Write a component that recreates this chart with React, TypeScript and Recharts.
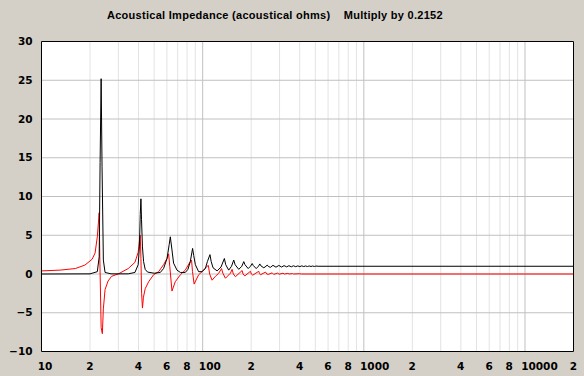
import React from "react";
import { LineChart, Line, XAxis, YAxis, ReferenceLine, CartesianGrid } from "recharts";

const chartTitle = "Acoustical Impedance (acoustical ohms)    Multiply by 0.2152";

const xTicks = [10, 20, 40, 60, 80, 100, 200, 400, 600, 800, 1000, 2000, 4000, 6000, 8000, 10000, 20000];
const xTickLabels = ["10", "2", "4", "6", "8", "100", "2", "4", "6", "8", "1000", "2", "4", "6", "8", "10000", "2"];
const yTicks = [-10, -5, 0, 5, 10, 15, 20, 25, 30];
const yGridValues = [-5, 0, 5, 10, 15, 20, 25];
const minorGridFreqs = [
  20, 30, 40, 50, 60, 70, 80, 90,
  200, 300, 400, 500, 600, 700, 800, 900,
  2000, 3000, 4000, 5000, 6000, 7000, 8000, 9000,
];
const majorGridFreqs = [100, 1000, 10000];

// Black trace (resistive part)
const blackFreq = [
  10, 20, 22.2, 22.8, 23.1, 23.45, 23.75, 24.2, 24.8, 27, 34.5, 38, 39.8, 40.5, 41.0, 41.4, 41.75, 42.3, 43, 44, 45.5,
  50, 54.6, 57.2, 60.1, 62.0, 63.0, 64.5, 66.0, 69.3, 72.7, 78, 81, 83.8, 86.6, 88, 90.1, 94.4, 99, 103.9, 107, 111,
  113, 116, 122.9, 130, 136.4, 139, 145.1, 151, 155.9, 159, 167.5, 175, 179.9, 183, 191.6, 198, 202.9, 206, 214.8,
  222, 226.2, 230, 239.6, 247, 251.5, 255, 263, 273, 285, 297, 309, 320, 332, 343, 355, 366, 378, 389, 401, 412, 424,
  435, 447, 458, 470, 481, 493, 505, 520, 20000,
];
const blackVal = [
  0, 0.02, 0.3, 2.2, 14.4, 25.2, 13.9, 1.8, 0.2, 0.02, 0.02, 0.2, 1.2, 3.5, 7.7, 9.7, 7.0, 3.5, 1.6, 0.6, 0.25,
  0.1, 0.2, 0.7, 2.0, 3.8, 4.8, 3.1, 1.4, 0.5, 0.2, 0.2, 0.6, 1.6, 3.3, 2.4, 1.2, 0.3, 0.3, 0.7, 1.6, 2.5,
  1.6, 0.8, 0.4, 0.9, 2.0, 1.2, 0.5, 1.0, 1.8, 1.2, 0.6, 1.0, 1.6, 1.2, 0.7, 1.0, 1.35, 1.1, 0.7,
  1.0, 1.3, 1.05, 0.8, 1.0, 1.15, 1.0, 0.85, 1.12, 0.88, 1.1, 0.9, 1.08, 0.92, 1.07, 0.93, 1.06, 0.94, 1.05, 0.95, 1.05, 0.96,
  1.04, 0.96, 1.04, 0.97, 1.03, 0.97, 1.03, 1.0, 1.0,
];

// Red trace (reactive part)
const redFreq = [
  10, 13, 16.2, 18.6, 20.6, 21.5, 22.2, 22.8, 23.0, 23.45, 23.85, 24.2, 24.8, 25.9, 27.2, 29.9, 34.5, 38.0, 39.8, 40.6,
  41.0, 41.4, 41.8, 42.3, 42.9, 44.0, 46.2, 49.6, 53.3, 57.2, 60.1, 61.5, 62.5, 64.5, 67.6, 72.7, 78, 83.8, 85.3, 86.5,
  88.5, 94.4, 99.1, 106.5, 108.5, 110.5, 114.4, 120, 125.8, 131, 133.5, 138.4, 148.7, 152.3, 155, 159.7, 175.8, 178,
  182.5, 198, 200.5, 204.6, 223, 225, 228.5, 245.5, 250, 255.1, 270, 276, 292, 298, 315, 321, 338, 344, 361, 367, 400,
  410, 20000,
];
const redVal = [
  0.4, 0.5, 0.7, 1.15, 1.9, 2.7, 4.8, 7.9, 2.2, -6.9, -7.7, -4.5, -2.0, -0.9, -0.3, 0.0, 0.7, 1.5, 2.8, 4.5,
  5.0, 2.0, -2.5, -4.4, -3.0, -1.9, -1.0, -0.1, 0.3, 1.2, 2.0, 2.6, 1.0, -2.2, -1.0, -0.1, 0.5, 1.6, 1.8, 0.3,
  -1.3, -0.1, 0.3, 1.0, 1.1, 0.0, -0.8, -0.3, 0.1, 0.7, 0.1, -0.55, 0.1, 0.6, 0.0, -0.35, 0.45, 0.0,
  -0.25, 0.35, 0.0, -0.15, 0.35, 0.1, -0.1, 0.25, 0.0, -0.05, 0.15, -0.05, 0.12, -0.03, 0.1, 0.0, 0.08, 0.0, 0.06, 0.0, 0.04,
  0.0, 0,
];

const blackData = blackFreq.map((f, i) => ({ f, v: blackVal[i] }));
const redData = redFreq.map((f, i) => ({ f, v: redVal[i] }));

const labelFont = "'DejaVu Sans', sans-serif";

const XTick = (props: any) => {
  const { x, y, payload } = props;
  const idx = xTicks.indexOf(payload.value);
  const label = idx >= 0 ? xTickLabels[idx] : String(payload.value);
  return (
    <text
      x={x - 3.8}
      y={y}
      dy="0.71em"
      textAnchor="start"
      fill="#000"
      fontSize={10.5}
      fontWeight="bold"
      fontFamily={labelFont}
    >
      {label}
    </text>
  );
};

const formatY = (v: number) => (v < 0 ? "\u2212" + Math.abs(v) : String(v));

export default function App() {
  return (
    <div style={{ position: "fixed", left: 0, top: 0, width: 584, height: 376, background: "#D4D0C8" }}>
      <div
        style={{
          position: "absolute",
          left: 107,
          top: 8.8,
          fontFamily: "'Liberation Sans', Arial, sans-serif",
          fontWeight: "bold",
          fontSize: 11,
          letterSpacing: 0.28,
          lineHeight: "12px",
          whiteSpace: "pre",
          color: "#000",
        }}
      >
        {chartTitle}
      </div>
      <LineChart
        width={584}
        height={376}
        margin={{ top: 41.5, right: 10.5, bottom: 0, left: 0 }}
        style={{ position: "absolute", left: 0, top: 0 }}
      >
        <CartesianGrid fill="#ffffff" fillOpacity={1} horizontal={false} vertical={false} />
        <XAxis
          dataKey="f"
          type="number"
          scale="log"
          domain={[10, 20000]}
          ticks={xTicks}
          interval={0}
          allowDataOverflow
          height={24.5}
          tickLine={false}
          tickSize={0}
          tickMargin={11}
          axisLine={{ stroke: "#000" }}
          tick={<XTick />}
        />
        <YAxis
          type="number"
          domain={[-10, 30]}
          ticks={yTicks}
          interval={0}
          allowDataOverflow
          width={41.5}
          tickLine={false}
          tickSize={0}
          tickMargin={9}
          axisLine={{ stroke: "#000" }}
          tickFormatter={formatY}
          tick={{ fill: "#000", fontSize: 10.5, fontWeight: "bold", fontFamily: labelFont }}
        />
        {minorGridFreqs.map((f) => (
          <ReferenceLine key={"mn" + f} x={f} stroke="#e3e3e3" strokeWidth={1} />
        ))}
        {majorGridFreqs.map((f) => (
          <ReferenceLine key={"mj" + f} x={f} stroke="#c0c0c0" strokeWidth={1} />
        ))}
        {yGridValues.map((v) => (
          <ReferenceLine key={"h" + v} y={v} stroke="#c0c0c0" strokeWidth={1} />
        ))}
        <ReferenceLine y={30} stroke="#000" strokeWidth={1} />
        <ReferenceLine x={20000} stroke="#000" strokeWidth={1} />
        <Line
          data={redData}
          dataKey="v"
          type="linear"
          stroke="#ff0000"
          strokeWidth={1}
          dot={false}
          activeDot={false}
          isAnimationActive={false}
        />
        <Line
          data={blackData}
          dataKey="v"
          type="linear"
          stroke="#000000"
          strokeWidth={1}
          dot={false}
          activeDot={false}
          isAnimationActive={false}
        />
      </LineChart>
    </div>
  );
}
